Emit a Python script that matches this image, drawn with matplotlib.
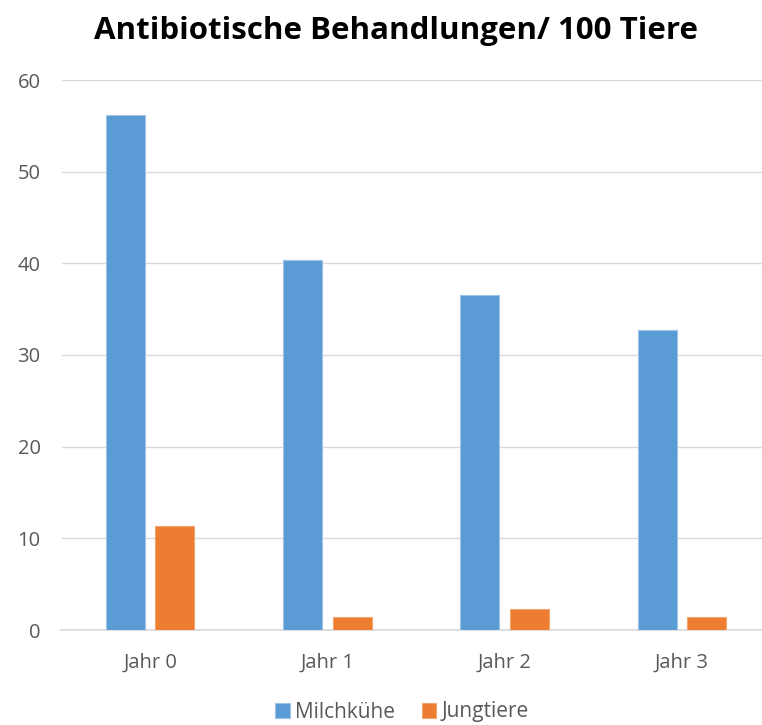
import numpy as np
import matplotlib.pyplot as plt

# data
categories = ['Jahr 0', 'Jahr 1', 'Jahr 2', 'Jahr 3']
milchkuehe = [56.2, 40.4, 36.5, 32.7]
jungtiere = [11.4, 1.4, 2.3, 1.4]
series_names = ['Milchkühe', 'Jungtiere']

plt.rcParams['font.family'] = ['Open Sans', 'DejaVu Sans']

W, H = 762, 725
fig = plt.figure(figsize=(W / 100, H / 100), dpi=100)
ax = fig.add_axes([61.5 / W, 95 / H, 709 / W, 550 / H])

x = np.arange(len(categories))
bw = 0.22
gap = 0.06
ax.bar(x - (bw + gap) / 2, milchkuehe, bw, color='#5B9BD5', edgecolor='#9DC3E6',
       linewidth=0.8, label=series_names[0], zorder=3)
ax.bar(x + (bw + gap) / 2, jungtiere, bw, color='#ED7D31', edgecolor='#F4A46E',
       linewidth=0.8, label=series_names[1], zorder=3)

ax.set_xlim(-0.5, 3.5)
ax.set_ylim(0, 60)
ax.set_yticks(range(0, 61, 10))
ax.set_xticks(x)
ax.set_xticklabels(categories)
ax.grid(axis='y', color='#D9D9D9', linewidth=1, zorder=0)
for s in ['top', 'right', 'left']:
    ax.spines[s].set_visible(False)
ax.spines['bottom'].set_color('#D9D9D9')
ax.spines['bottom'].set_linewidth(1.2)
ax.tick_params(axis='both', length=0, colors='#595959', labelsize=14.5)
ax.tick_params(axis='x', pad=16)
ax.tick_params(axis='y', pad=15)

fig.text(396 / W, 1 - 31 / H, 'Antibiotische Behandlungen/ 100 Tiere', ha='center',
         va='center', fontsize=22.5, fontweight='bold', color='black')

leg = fig.legend(loc='center', bbox_to_anchor=(402 / W, 1 - 712 / H), ncol=2,
                 frameon=False, fontsize=15, handlelength=0.7, handleheight=0.7,
                 handletextpad=0.25, columnspacing=1.3)
for t in leg.get_texts():
    t.set_color('#595959')

fig.savefig('out.png', dpi=100)
